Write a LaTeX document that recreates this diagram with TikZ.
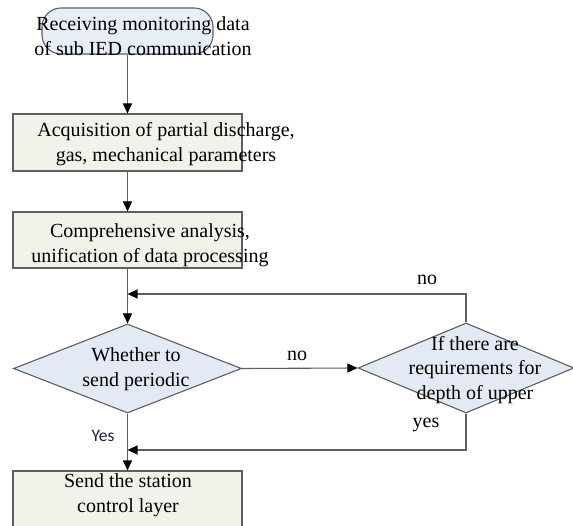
\documentclass[tikz,border=0pt]{standalone}
\usepackage{fontspec}
\setmainfont{Liberation Serif}
\newfontfamily\yesfont{Carlito}
\usetikzlibrary{shapes.geometric, arrows.meta}
\definecolor{termfill}{HTML}{E8EEF8}
\definecolor{boxfill}{HTML}{F2F2EA}
\definecolor{diafill}{HTML}{E3EAF6}
\definecolor{edgegray}{HTML}{5E5E5E}
\definecolor{yesblue}{HTML}{1E2040}

\begin{document}
\begin{tikzpicture}[x=1pt, y=-1pt, >={Triangle[length=10pt, width=9pt, color=black]},
    txt/.style={align=center, inner sep=0pt, font=\fontsize{20}{24.5}\selectfont},
    lbl/.style={inner sep=0pt, font=\fontsize{20}{24}\selectfont},
    term/.style={draw=edgegray, fill=termfill, line width=1.1pt, rounded corners=19pt,
        minimum width=171pt, minimum height=46pt, inner sep=0pt},
    box/.style={draw=edgegray, fill=boxfill, line width=1.1pt,
        minimum width=229pt, inner sep=0pt},
    dia/.style={diamond, draw=edgegray, fill=diafill, line width=1.1pt, inner sep=0pt},
    conn/.style={draw=edgegray, line width=1.1pt}]
    \useasboundingbox (0,0) rectangle (573,526);

    \node[term] (start) at (127.5,31) {};
    \node[box, minimum height=57pt] (acq) at (127.5,142.5) {};
    \node[box, minimum height=56pt] (ana) at (127.5,240) {};
    \node[dia, minimum width=228pt, minimum height=89pt] (per) at (127.5,368.5) {};
    \node[dia, minimum width=216pt, minimum height=90pt] (req) at (466,368) {};
    \node[box, minimum height=70pt] (send) at (127.5,506) {};

    \node[txt] (start-txt) at (143,36) {Receiving monitoring data\\of sub IED communication};
    \node[txt] (acq-txt) at (166,144) {Acquisition of partial discharge,\\gas, mechanical parameters};
    \node[txt] (ana-txt) at (150,245) {Comprehensive analysis,\\unification of data processing};
    \node[txt] (per-txt) at (136,369) {Whether to\\send periodic};
    \node[txt] (req-txt) at (475,370) {If there are\\requirements for\\depth of upper};
    \node[txt] (send-txt) at (128,495) {Send the station\\control layer};

    \coordinate (join-no) at (127.5,294);
    \coordinate (join-yes) at (127.5,450);

    \draw[conn, ->] (start) -- (acq);
    \draw[conn, ->] (acq) -- (ana);
    \draw[conn, ->] (ana) -- (per);
    \draw[conn, ->] (per.east) -- (req.west);
    \draw[conn, ->] (req.north) |- (join-no);
    \draw[conn, ->] (per.south) -- (send.north);
    \draw[conn, ->] (req.south) |- (join-yes);

    \node[lbl] (no-mid) at (297,356) {no};
    \node[lbl] (no-top) at (427,280) {no};
    \node[lbl] (yes-right) at (426,425) {yes};
    \node[inner sep=0pt, text=yesblue, font=\yesfont\fontsize{17.5}{19}\selectfont] (yes-left) at (103,436) {Yes};
\end{tikzpicture}
\end{document}
